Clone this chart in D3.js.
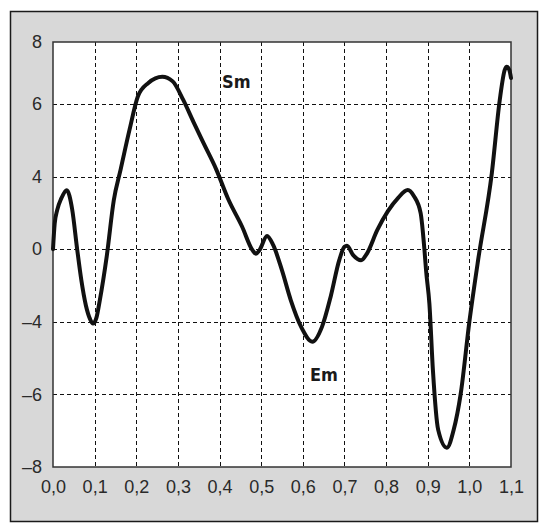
<!DOCTYPE html>
<html>
<head>
<meta charset="utf-8">
<script src="https://cdn.jsdelivr.net/npm/d3@7"></script>
<style>
  html, body { margin: 0; padding: 0; background: #fff; }
  svg { display: block; }
</style>
</head>
<body>
<div id="chart"></div>
<script>
// Curve values (x, value in axis-label units)
const xValues = [0, 0.004, 0.010, 0.020, 0.033, 0.046, 0.058, 0.068, 0.079, 0.089, 0.096, 0.104, 0.1125, 0.129,
  0.146, 0.1625, 0.184, 0.204, 0.229, 0.2625, 0.2875, 0.3125, 0.3375, 0.3625, 0.392, 0.421, 0.454, 0.479,
  0.4875, 0.496, 0.514, 0.529, 0.55, 0.571, 0.596, 0.623, 0.646, 0.667, 0.6875, 0.700, 0.706, 0.721, 0.740,
  0.754, 0.779, 0.804, 0.829, 0.852, 0.867, 0.883, 0.892, 0.896, 0.904, 0.9125, 0.925, 0.946, 0.9625, 0.979,
  1.0, 1.021, 1.054, 1.073, 1.085, 1.090, 1.096, 1.1];
const yValues = [0, 1.40, 2.15, 2.80, 3.25, 2.20, 0.00, -1.70, -3.10, -3.85, -4.05, -3.80, -2.80, -0.40,
  2.70, 4.20, 5.30, 6.25, 6.68, 6.88, 6.73, 6.14, 5.50, 4.90, 4.20, 2.75, 1.25, -0.05,
  -0.25, -0.05, 0.73, 0.22, -1.17, -2.80, -4.14, -4.55, -4.14, -2.60, -0.60, 0.13, 0.19, -0.33, -0.61,
  -0.24, 1.06, 2.08, 2.83, 3.26, 2.92, 1.99, 0.00, -1.17, -3.00, -5.34, -6.97, -7.47, -6.97, -6.00,
  -4.00, -0.60, 4.10, 6.13, 7.10, 7.20, 7.10, 6.84];

const xTicks = [0, 0.1, 0.2, 0.3, 0.4, 0.5, 0.6, 0.7, 0.8, 0.9, 1.0, 1.1];
const yTicks = [8, 6, 4, 0, -4, -6, -8];

const labelNames = ['Sm', 'Em'];
const labelX = [0.406, 0.617];
const labelY = [6.52, -5.62];

const width = 543;
const height = 527;
const margin = { top: 42, right: 32, bottom: 60, left: 53 };
const innerW = width - margin.left - margin.right;
const innerH = height - margin.top - margin.bottom;

const svg = d3.select('#chart')
    .append('svg')
    .attr('width', width)
    .attr('height', height);

// outer gray frame
svg.append('rect')
    .attr('x', 10.5).attr('y', 11.5)
    .attr('width', 527).attr('height', 510)
    .attr('fill', '#d8d8d8')
    .attr('stroke', '#1a1a1a')
    .attr('stroke-width', 1.5);

const g = svg.append('g').attr('transform', `translate(${margin.left},${margin.top})`);

const xScale = d3.scaleLinear().domain([0, 1.1]).range([0, innerW]);

// the top band is a bit shorter than the others
const topBand = 62;
const band = (innerH - topBand) / (yTicks.length - 2);
const yScale = d3.scaleLinear()
    .domain(yTicks)
    .range(yTicks.map((d, i) => i === 0 ? 0 : topBand + (i - 1) * band));

g.append('rect')
    .attr('width', innerW).attr('height', innerH)
    .attr('fill', '#fff');

// gridlines
g.append('g')
    .selectAll('line')
    .data(xTicks.slice(1, -1))
    .join('line')
    .attr('x1', (d) => Math.round(xScale(d)) + 0.5)
    .attr('x2', (d) => Math.round(xScale(d)) + 0.5)
    .attr('y1', 0).attr('y2', innerH)
    .attr('stroke', '#111').attr('stroke-width', 1)
    .attr('stroke-dasharray', '4,3');

g.append('g')
    .selectAll('line')
    .data(yTicks.slice(1, -1))
    .join('line')
    .attr('y1', (d) => Math.round(yScale(d)) + 0.5)
    .attr('y2', (d) => Math.round(yScale(d)) + 0.5)
    .attr('x1', 0).attr('x2', innerW)
    .attr('stroke', '#111').attr('stroke-width', 1)
    .attr('stroke-dasharray', '4,3');

g.append('rect')
    .attr('width', innerW).attr('height', innerH)
    .attr('fill', 'none')
    .attr('stroke', '#333').attr('stroke-width', 1.5);

// axes (labels only)
const xAxis = d3.axisBottom(xScale)
    .tickValues(xTicks)
    .tickSize(0)
    .tickPadding(13)
    .tickFormat((d) => d3.format('.1f')(d).replace('.', ','));

g.append('g')
    .attr('transform', `translate(0,${innerH})`)
    .call(xAxis)
    .call((s) => s.select('.domain').remove())
    .selectAll('text')
    .attr('font-family', '"Liberation Sans", Arial, sans-serif')
    .attr('font-size', 18)
    .attr('fill', '#2a2a2a');

const yAxis = d3.axisLeft(yScale)
    .tickValues(yTicks)
    .tickSize(0)
    .tickPadding(11)
    .tickFormat((d) => d < 0 ? '\u2013' + Math.abs(d) : String(d));

g.append('g')
    .call(yAxis)
    .call((s) => s.select('.domain').remove())
    .selectAll('text')
    .attr('font-family', '"Liberation Sans", Arial, sans-serif')
    .attr('font-size', 18)
    .attr('fill', '#2a2a2a');

// curve
const points = xValues.map((x, i) => [x, yValues[i]]);
const line = d3.line()
    .x((d) => xScale(d[0]))
    .y((d) => yScale(d[1]))
    .curve(d3.curveMonotoneX);

g.append('path')
    .datum(points)
    .attr('d', line)
    .attr('fill', 'none')
    .attr('stroke', '#111')
    .attr('stroke-width', 4)
    .attr('stroke-linejoin', 'round')
    .attr('stroke-linecap', 'round');

// Sm / Em labels
g.append('g')
    .selectAll('text')
    .data(labelNames)
    .join('text')
    .attr('x', (d, i) => xScale(labelX[i]))
    .attr('y', (d, i) => yScale(labelY[i]))
    .attr('font-family', '"Liberation Sans Narrow", "DejaVu Sans Condensed", sans-serif')
    .attr('font-weight', 'bold')
    .attr('font-size', 18)
    .attr('fill', '#1a1a1a')
    .text((d) => d);
</script>
</body>
</html>
